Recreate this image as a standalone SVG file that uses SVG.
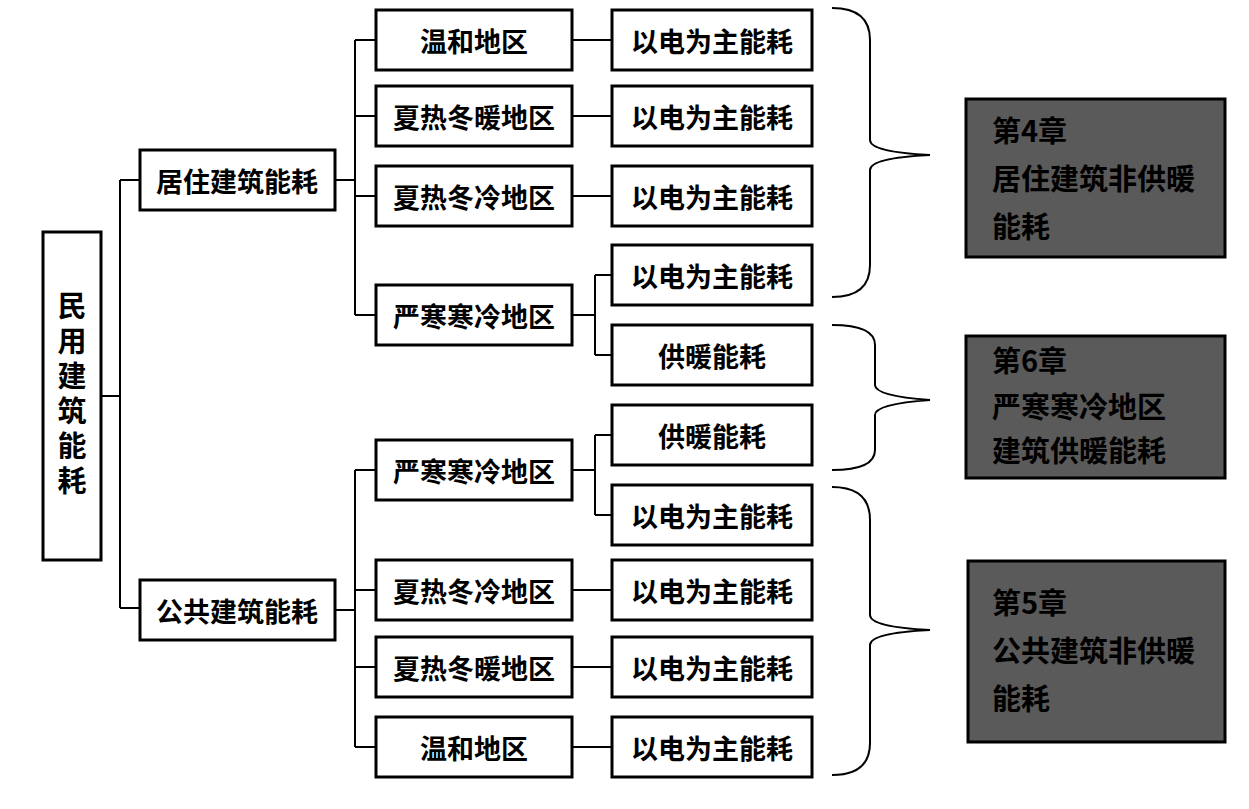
<svg xmlns="http://www.w3.org/2000/svg" width="1249" height="809" viewBox="0 0 1249 809">
<style>
.b{fill:#fff;stroke:#000;stroke-width:3}
.t{font-family:"Noto Sans CJK SC","Liberation Sans",sans-serif;font-size:27px;font-weight:bold;fill:#000;text-anchor:middle;dominant-baseline:central}
.d{fill:#5a5a5a;stroke:#000;stroke-width:3}
.dt{font-family:"Noto Sans CJK SC","Liberation Sans",sans-serif;font-size:29px;font-weight:bold;fill:#000}
.c{fill:none;stroke:#000;stroke-width:2}
</style>
<rect width="1249" height="809" fill="#fff"/>
<g id="connectors">
<path class="c" d="M101 396H120M120 180V608M120 180H140M120 608H140"/>
<path class="c" d="M335 180H355M355 40V315M355 40H376M355 116H376M355 196H376M355 315H376"/>
<path class="c" d="M335 610H355M355 470V747M355 470H376M355 590H376M355 667H376M355 747H376"/>
<path class="c" d="M572 40H612M572 116H612M572 196H612M572 590H612M572 667H612M572 747H612"/>
<path class="c" d="M572 315H595M595 275V355M595 275H612M595 355H612"/>
<path class="c" d="M572 470H595M595 435V515M595 435H612M595 515H612"/>
<path class="c" d="M832 8Q870 8 870 40V140Q870 152 930 155Q870 158 870 170V265Q870 297 832 297"/>
<path class="c" d="M832 325Q875 325 875 345V385Q875 396 930 400Q875 404 875 415V450Q875 470 832 470"/>
<path class="c" d="M832 487Q870 487 870 520V615Q870 627 930 630Q870 633 870 645V743Q870 775 832 775"/>
</g>
<g id="root"><rect class="b" x="43" y="232" width="58" height="328"/>
<text class="t" x="72" y="396" style="writing-mode:vertical-rl;letter-spacing:6px;font-size:29px">民用建筑能耗</text></g>
<g id="n_res"><rect class="b" x="140" y="150" width="195" height="60"/><text class="t" x="237" y="180">居住建筑能耗</text></g>
<g id="n_pub"><rect class="b" x="140" y="580" width="195" height="60"/><text class="t" x="237" y="610">公共建筑能耗</text></g>
<g id="r1"><rect class="b" x="376" y="10" width="196" height="60"/><text class="t" x="474" y="40">温和地区</text></g>
<g id="r2"><rect class="b" x="376" y="86" width="196" height="60"/><text class="t" x="474" y="116">夏热冬暖地区</text></g>
<g id="r3"><rect class="b" x="376" y="166" width="196" height="60"/><text class="t" x="474" y="196">夏热冬冷地区</text></g>
<g id="r4"><rect class="b" x="376" y="285" width="196" height="60"/><text class="t" x="474" y="315">严寒寒冷地区</text></g>
<g id="p1"><rect class="b" x="376" y="440" width="196" height="60"/><text class="t" x="474" y="470">严寒寒冷地区</text></g>
<g id="p2"><rect class="b" x="376" y="560" width="196" height="60"/><text class="t" x="474" y="590">夏热冬冷地区</text></g>
<g id="p3"><rect class="b" x="376" y="637" width="196" height="60"/><text class="t" x="474" y="667">夏热冬暖地区</text></g>
<g id="p4"><rect class="b" x="376" y="717" width="196" height="60"/><text class="t" x="474" y="747">温和地区</text></g>
<g id="e1"><rect class="b" x="612" y="10" width="200" height="60"/><text class="t" x="712" y="40">以电为主能耗</text></g>
<g id="e2"><rect class="b" x="612" y="86" width="200" height="60"/><text class="t" x="712" y="116">以电为主能耗</text></g>
<g id="e3"><rect class="b" x="612" y="166" width="200" height="60"/><text class="t" x="712" y="196">以电为主能耗</text></g>
<g id="e4"><rect class="b" x="612" y="245" width="200" height="60"/><text class="t" x="712" y="275">以电为主能耗</text></g>
<g id="h1"><rect class="b" x="612" y="325" width="200" height="60"/><text class="t" x="712" y="355">供暖能耗</text></g>
<g id="h2"><rect class="b" x="612" y="405" width="200" height="60"/><text class="t" x="712" y="435">供暖能耗</text></g>
<g id="e5"><rect class="b" x="612" y="485" width="200" height="60"/><text class="t" x="712" y="515">以电为主能耗</text></g>
<g id="e6"><rect class="b" x="612" y="560" width="200" height="60"/><text class="t" x="712" y="590">以电为主能耗</text></g>
<g id="e7"><rect class="b" x="612" y="637" width="200" height="60"/><text class="t" x="712" y="667">以电为主能耗</text></g>
<g id="e8"><rect class="b" x="612" y="717" width="200" height="60"/><text class="t" x="712" y="747">以电为主能耗</text></g>
<g id="c4"><rect class="d" x="966" y="99" width="259" height="158"/>
<text class="dt" x="992" y="142">第4章</text><text class="dt" x="992" y="190">居住建筑非供暖</text><text class="dt" x="992" y="238">能耗</text></g>
<g id="c6"><rect class="d" x="966" y="336" width="259" height="142"/>
<text class="dt" x="992" y="372">第6章</text><text class="dt" x="992" y="418">严寒寒冷地区</text><text class="dt" x="992" y="462">建筑供暖能耗</text></g>
<g id="c5"><rect class="d" x="968" y="561" width="257" height="181"/>
<text class="dt" x="992" y="614">第5章</text><text class="dt" x="992" y="662">公共建筑非供暖</text><text class="dt" x="992" y="710">能耗</text></g>
</svg>
